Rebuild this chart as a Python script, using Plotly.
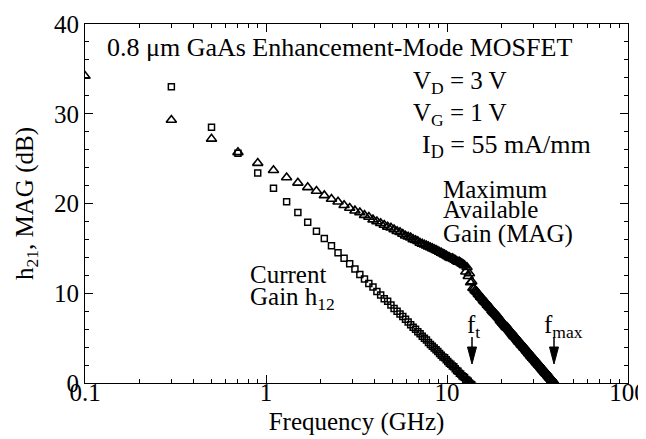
import plotly.graph_objects as go

# ---------------- data ----------------
# Maximum Available Gain (triangles): frequency sweep in GHz and value in dB
mag_freq = [
    0.1, 0.3, 0.5, 0.7, 0.9, 1.1, 1.3, 1.5, 1.7, 1.9,
    2.1, 2.3, 2.5, 2.7, 2.9, 3.1, 3.3, 3.5, 3.7, 3.9,
    4.1, 4.3, 4.5, 4.7, 4.9, 5.1, 5.3, 5.5, 5.7, 5.9,
    6.1, 6.3, 6.5, 6.7, 6.9, 7.1, 7.3, 7.5, 7.7, 7.9,
    8.1, 8.3, 8.5, 8.7, 8.9, 9.1, 9.3, 9.5, 9.7, 9.9,
    10.1, 10.3, 10.5, 10.7, 10.9, 11.1, 11.3, 11.5, 11.7, 11.9,
    12.1, 12.3, 12.5, 12.7, 12.9, 13.1, 13.3, 13.5, 13.7, 13.9,
    14.1, 14.3, 14.5, 14.7, 14.9, 15.1, 15.3, 15.5, 15.7, 15.9,
    16.1, 16.3, 16.5, 16.7, 16.9, 17.1, 17.3, 17.5, 17.7, 17.9,
    18.1, 18.3, 18.5, 18.7, 18.9, 19.1, 19.3, 19.5, 19.7, 19.9,
    20.1, 20.3, 20.5, 20.7, 20.9, 21.1, 21.3, 21.5, 21.7, 21.9,
    22.1, 22.3, 22.5, 22.7, 22.9, 23.1, 23.3, 23.5, 23.7, 23.9,
    24.1, 24.3, 24.5, 24.7, 24.9, 25.1, 25.3, 25.5, 25.7, 25.9,
    26.1, 26.3, 26.5, 26.7, 26.9, 27.1, 27.3, 27.5, 27.7, 27.9,
    28.1, 28.3, 28.5, 28.7, 28.9, 29.1, 29.3, 29.5, 29.7, 29.9,
    30.1, 30.3, 30.5, 30.7, 30.9, 31.1, 31.3, 31.5, 31.7, 31.9,
    32.1, 32.3, 32.5, 32.7, 32.9, 33.1, 33.3, 33.5, 33.7, 33.9,
    34.1, 34.3, 34.5, 34.7, 34.9, 35.1, 35.3, 35.5, 35.7, 35.9,
    36.1, 36.3, 36.5, 36.7, 36.9, 37.1, 37.3, 37.5, 37.7, 37.9,
    38.1, 38.3, 38.5, 38.7, 38.9, 39.1, 39.3, 39.5, 39.7, 39.9,
    40.1,
]
mag_db = [
    34.2, 29.3, 27.2, 25.7, 24.5, 23.7, 22.9, 22.3, 21.8, 21.4,
    20.9, 20.5, 20.2, 19.8, 19.5, 19.2, 19.0, 18.7, 18.5, 18.2,
    18.0, 17.8, 17.6, 17.4, 17.3, 17.1, 16.9, 16.8, 16.6, 16.4,
    16.3, 16.2, 16.0, 15.9, 15.8, 15.6, 15.5, 15.4, 15.3, 15.2,
    15.1, 15.0, 14.9, 14.8, 14.7, 14.6, 14.5, 14.4, 14.3, 14.2,
    14.1, 14.0, 13.9, 13.9, 13.8, 13.7, 13.6, 13.5, 13.5, 13.4,
    13.3, 13.2, 13.1, 12.4, 12.9, 11.9, 12.2, 11.2, 11.3, 10.6,
    10.5, 10.3, 10.2, 10.1, 9.9, 9.8, 9.6, 9.5, 9.4, 9.2,
    9.1, 9.0, 8.9, 8.7, 8.6, 8.5, 8.4, 8.3, 8.1, 8.0,
    7.9, 7.8, 7.7, 7.6, 7.5, 7.4, 7.3, 7.2, 7.0, 6.9,
    6.8, 6.7, 6.6, 6.5, 6.4, 6.3, 6.2, 6.2, 6.1, 6.0,
    5.9, 5.8, 5.7, 5.6, 5.5, 5.4, 5.3, 5.2, 5.2, 5.1,
    5.0, 4.9, 4.8, 4.7, 4.6, 4.6, 4.5, 4.4, 4.3, 4.2,
    4.2, 4.1, 4.0, 3.9, 3.9, 3.8, 3.7, 3.6, 3.6, 3.5,
    3.4, 3.3, 3.3, 3.2, 3.1, 3.0, 3.0, 2.9, 2.8, 2.8,
    2.7, 2.6, 2.6, 2.5, 2.4, 2.4, 2.3, 2.2, 2.2, 2.1,
    2.0, 2.0, 1.9, 1.9, 1.8, 1.7, 1.7, 1.6, 1.5, 1.5,
    1.4, 1.4, 1.3, 1.2, 1.2, 1.1, 1.1, 1.0, 1.0, 0.9,
    0.8, 0.8, 0.7, 0.7, 0.6, 0.6, 0.5, 0.5, 0.4, 0.3,
    0.3, 0.2, 0.2, 0.1, 0.1, 0.0, 0.0, -0.1, -0.1, -0.2,
    -0.2,
]

# Current gain h21 (squares)
h21_freq = [
    0.3, 0.5, 0.7, 0.9, 1.1, 1.3, 1.5, 1.7, 1.9, 2.1,
    2.3, 2.5, 2.7, 2.9, 3.1, 3.3, 3.5, 3.7, 3.9, 4.1,
    4.3, 4.5, 4.7, 4.9, 5.1, 5.3, 5.5, 5.7, 5.9, 6.1,
    6.3, 6.5, 6.7, 6.9, 7.1, 7.3, 7.5, 7.7, 7.9, 8.1,
    8.3, 8.5, 8.7, 8.9, 9.1, 9.3, 9.5, 9.7, 9.9, 10.1,
    10.3, 10.5, 10.7, 10.9, 11.1, 11.3, 11.5, 11.7, 11.9, 12.1,
    12.3, 12.5, 12.7, 12.9, 13.1, 13.3, 13.5, 13.7, 13.9,
]
h21_db = [
    33.0, 28.5, 25.6, 23.4, 21.7, 20.2, 19.0, 17.9, 16.9, 16.1,
    15.3, 14.5, 13.9, 13.3, 12.7, 12.1, 11.6, 11.1, 10.7, 10.2,
    9.8, 9.4, 9.1, 8.7, 8.3, 8.0, 7.7, 7.4, 7.1, 6.8,
    6.5, 6.2, 6.0, 5.7, 5.5, 5.2, 5.0, 4.8, 4.5, 4.3,
    4.1, 3.9, 3.7, 3.5, 3.3, 3.1, 2.9, 2.8, 2.6, 2.4,
    2.2, 2.1, 1.9, 1.8, 1.6, 1.4, 1.3, 1.1, 1.0, 0.8,
    0.7, 0.6, 0.4, 0.3, 0.2, 0.0, -0.1, -0.2, -0.4,
]

x_tick_vals = [0.1, 1, 10, 100]
x_tick_text = ["0.1", "1", "10", "100"]
x_minor_vals = [0.2, 0.3, 0.4, 0.5, 0.6, 0.7, 0.8, 0.9,
                2, 3, 4, 5, 6, 7, 8, 9,
                20, 30, 40, 50, 60, 70, 80, 90]

# ---------------- figure ----------------
FONT = '"Liberation Serif", "Times New Roman", "DejaVu Serif", serif'
FS = 25

fig = go.Figure()
fig.add_trace(go.Scatter(
    x=h21_freq, y=h21_db, mode="markers", cliponaxis=True,
    marker=dict(symbol="square-open", size=6, color="black",
                line=dict(width=1.5, color="black")),
))
fig.add_trace(go.Scatter(
    x=mag_freq, y=mag_db, mode="markers", cliponaxis=True,
    marker=dict(symbol="triangle-up-open", size=9, color="black",
                line=dict(width=1.6, color="black")),
))

axis_common = dict(
    showgrid=False, zeroline=False, showline=True, linecolor="black",
    linewidth=1.2, mirror="ticks", ticks="inside", ticklen=8, tickwidth=1,
    tickcolor="black", tickfont=dict(family=FONT, size=FS, color="black"),
    automargin=False, ticklabeloverflow="allow",
)

# the page body adds an 8px offset, so the figure is 8px smaller than the window
fig.update_layout(
    width=638, height=431,
    margin=dict(l=77, r=18, t=16, b=56),
    paper_bgcolor="white", plot_bgcolor="white",
    showlegend=False,
    font=dict(family=FONT, size=FS, color="black"),
    xaxis=dict(
        type="log", range=[-1, 2],
        tickmode="array", tickvals=x_tick_vals, ticktext=x_tick_text,
        ticklabelstandoff=-13,
        minor=dict(tickmode="array", tickvals=x_minor_vals, ticks="inside",
                   ticklen=4, tickcolor="black", showgrid=False),
        title=dict(text="Frequency (GHz)", font=dict(family=FONT, size=FS),
                   standoff=7),
        **axis_common,
    ),
    yaxis=dict(
        range=[0, 40], tickmode="linear", tick0=0, dtick=10,
        minor=dict(dtick=2, ticks="inside", ticklen=4, tickcolor="black",
                   showgrid=False),
        title=dict(text="h<sub>21</sub>, MAG (dB)",
                   font=dict(family=FONT, size=FS), standoff=13),
        **axis_common,
    ),
)

def px_x(px):
    return (px - 85) / 543.0

def px_y(py):
    return (383 - py) / 359.0

def label(text, x, y, xanchor="left", size=FS):
    fig.add_annotation(text=text, xref="paper", yref="paper", x=px_x(x), y=px_y(y),
                       xanchor=xanchor, yanchor="middle", showarrow=False,
                       font=dict(family=FONT, size=size, color="black"))

label("0.8 μm GaAs Enhancement-Mode MOSFET", 105, 47, size=26)
label("V<sub>D</sub> = 3 V", 411, 83)
label("V<sub>G</sub> = 1 V", 411, 114)
label("I<sub>D</sub> = 55 mA/mm", 420, 146, size=26)
label("Maximum", 441, 189)
label("Available", 441, 210)
label("Gain (MAG)", 441, 234)
label("Current", 248, 274)
label("Gain h<sub>12</sub>", 248, 298)
label("f<sub>t</sub>", 473, 326, xanchor="center")
label("f<sub>max</sub>", 563, 326, xanchor="center")

# downward arrows marking f_t and f_max
for ax_px in (472, 554):
    fig.add_shape(type="line", xref="paper", yref="paper",
                  x0=px_x(ax_px), x1=px_x(ax_px), y0=px_y(337), y1=px_y(349),
                  line=dict(color="black", width=1.5))
    fig.add_shape(type="path", xref="paper", yref="paper",
                  path="M {a},{b} L {c},{b} L {d},{e} Z".format(
                      a=px_x(ax_px - 4.5), b=px_y(347), c=px_x(ax_px + 4.5),
                      d=px_x(ax_px), e=px_y(364)),
                  fillcolor="black", line=dict(color="black", width=1))

fig.write_html("out.html")
